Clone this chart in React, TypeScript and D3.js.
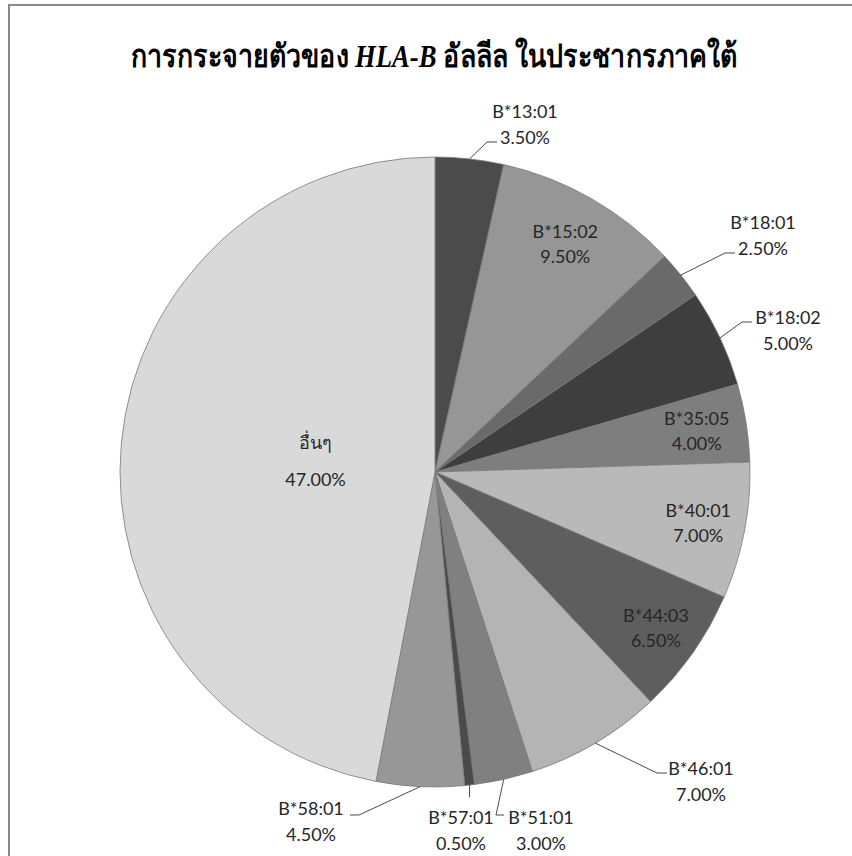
import React from "react";
import * as d3 from "d3";

const TITLE_PRE = "การกระจายตัวของ ";
const TITLE_ITALIC = "HLA-B";
const TITLE_POST = " อัลลีล ในประชากรภาคใต้";

const alleles = ["B*13:01", "B*15:02", "B*18:01", "B*18:02", "B*35:05", "B*40:01", "B*44:03", "B*46:01", "B*51:01", "B*57:01", "B*58:01", "อื่นๆ"];
const percents = [3.5, 9.5, 2.5, 5.0, 4.0, 7.0, 6.5, 7.0, 3.0, 0.5, 4.5, 47.0];
const sliceColors = ["#4b4b4b", "#969696", "#6a6a6a", "#3e3e3e", "#7e7e7e", "#b9b9b9", "#5e5e5e", "#b4b4b4", "#808080", "#4a4a4a", "#979797", "#d9d9d9"];

// label layout (offsets from pie centre); inside labels use a radius
const insideRadius: Record<string, number> = {
  "B*15:02": 263,
  "B*35:05": 265,
  "B*40:01": 268,
  "B*44:03": 270,
  "อื่นๆ": 120,
};
const outsideLayout: Record<string, { l: [number, number]; e: [number, number][] }> = {
  "B*13:01": { l: [90, -348], e: [[52, -330], [62, -330]] },
  "B*18:01": { l: [328, -237], e: [[290, -219], [300, -219]] },
  "B*18:02": { l: [353, -142], e: [[307, -150], [317, -150]] },
  "B*46:01": { l: [266, 309], e: [[222, 301], [232, 301]] },
  "B*51:01": { l: [106, 358], e: [[61, 343], [69, 343]] },
  "B*57:01": { l: [26, 358], e: [] },
  "B*58:01": { l: [-124, 349], e: [[-76, 343], [-85, 343]] },
};

const W = 852;
const H = 856;
const CX = 435;
const CY = 472;
const R = 315;

export default function App() {
  const pie = d3.pie<number>().sort(null).value((d) => d).startAngle(0).endAngle(2 * Math.PI);
  const arcs = pie(percents);
  const arc = d3.arc<d3.PieArcDatum<number>>().innerRadius(0).outerRadius(R);
  const fmt = (v: number) => v.toFixed(2) + "%";
  const labelFont = "Lato, 'Noto Sans', sans-serif";

  return (
    <svg width={W} height={H} style={{ position: "absolute", left: 0, top: 0, background: "#fff" }}>
      <rect x={9} y={5} width={W + 20} height={H + 20} fill="#fff" stroke="#898989" strokeWidth={2} />
      <text transform="translate(434,67) scale(0.835,1)" x={0} y={0} textAnchor="middle" fontFamily="'Liberation Serif', 'Times New Roman', serif" fontWeight="bold" fontSize={32} fill="#000">
        {TITLE_PRE}
        <tspan fontStyle="italic">{TITLE_ITALIC}</tspan>
        {TITLE_POST}
      </text>
      <g transform={`translate(${CX},${CY})`}>
        {arcs.map((a, i) => (
          <path key={i} d={arc(a) || ""} fill={sliceColors[i]} stroke="#7a7a7a" strokeWidth={0.8} />
        ))}
        {arcs.map((a, i) => {
          const name = alleles[i];
          const mid = (a.startAngle + a.endAngle) / 2;
          if (insideRadius[name] !== undefined) {
            const rr = insideRadius[name];
            const x = rr * Math.sin(mid);
            const y = -rr * Math.cos(mid);
            const gap = name === "อื่นๆ" ? 37 : 25;
            return (
              <g key={"l" + i} fontFamily={labelFont} fontSize={18} fill="#262626" textAnchor="middle">
                <text x={x} y={y - gap / 2} dominantBaseline="central">{name}</text>
                <text x={x} y={y + gap / 2} dominantBaseline="central">{fmt(percents[i])}</text>
              </g>
            );
          }
          const lay = outsideLayout[name];
          const sx = R * Math.sin(mid);
          const sy = -R * Math.cos(mid);
          let pts: [number, number][] = [[sx, sy], ...lay.e];
          if (lay.e.length === 0) pts = [[sx, sy], [sx, sy + 12]];
          const line = d3.line();
          return (
            <g key={"l" + i}>
              <path d={line(pts) || ""} fill="none" stroke="#4a4a4a" strokeWidth={1} />
              <g fontFamily={labelFont} fontSize={18} fill="#262626" textAnchor="middle">
                <text x={lay.l[0]} y={lay.l[1] - 13} dominantBaseline="central">{name}</text>
                <text x={lay.l[0]} y={lay.l[1] + 13} dominantBaseline="central">{fmt(percents[i])}</text>
              </g>
            </g>
          );
        })}
      </g>
    </svg>
  );
}
